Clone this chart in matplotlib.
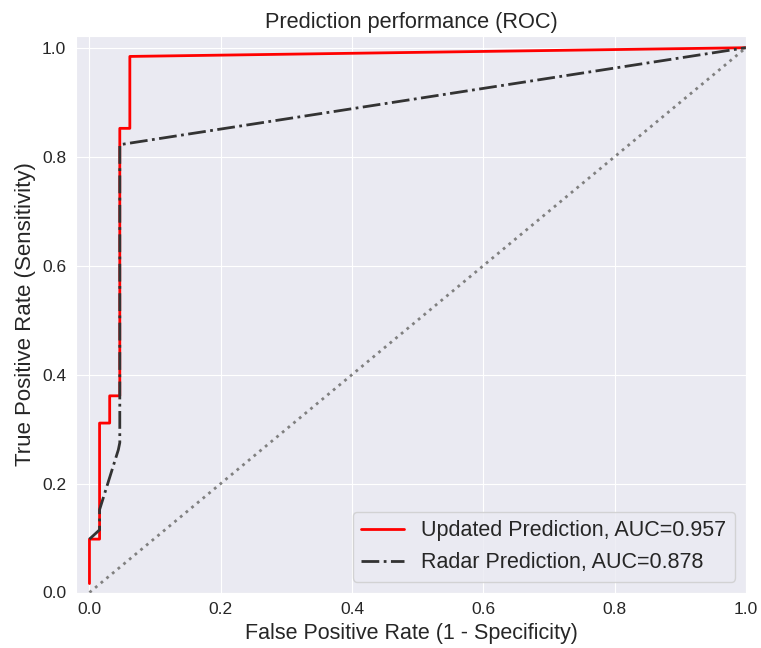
import matplotlib
matplotlib.use("Agg")
import matplotlib.pyplot as plt
import seaborn as sns

sns.set_style("darkgrid")
plt.rcParams['font.family'] = ['Liberation Sans', 'DejaVu Sans']

# Updated prediction ROC points
upd_fpr = [0.0, 0.0, 0.0154, 0.0154, 0.0308, 0.0308, 0.0462, 0.0462, 0.0615, 0.0615, 1.0]
upd_tpr = [0.0164, 0.098, 0.098, 0.311, 0.311, 0.361, 0.361, 0.852, 0.852, 0.984, 1.0]
upd_label = "Updated Prediction, AUC=0.957"

# Radar prediction ROC points
radar_fpr = [0.0, 0.0154, 0.0154, 0.0440, 0.0462, 0.0462, 1.0]
radar_tpr = [0.098, 0.115, 0.152, 0.262, 0.275, 0.822, 1.0]
radar_label = "Radar Prediction, AUC=0.878"

chance = [0.0, 1.0]

fig = plt.figure(figsize=(7.61, 6.48), dpi=100)
ax = fig.add_axes([76/761, 1 - 592.5/648, (746 - 76)/761, (592.5 - 36)/648])

ax.plot(upd_fpr, upd_tpr, color='red', lw=2, label=upd_label)
ax.plot(radar_fpr, radar_tpr, color='#333333', lw=2, ls='-.', label=radar_label)
ax.plot(chance, chance, color='grey', lw=2, ls=':')

ax.set_xlim(-0.0205, 1.0)
ax.set_ylim(0.0, 1.0215)
ax.tick_params(labelsize=12.5)
ax.set_xlabel("False Positive Rate (1 - Specificity)", fontsize=15.5)
ax.set_ylabel("True Positive Rate (Sensitivity)", fontsize=16)
ax.set_title("Prediction performance (ROC)", fontsize=15.7)
ax.legend(loc='lower right', fontsize=15.5)

fig.savefig("out.png", dpi=100)
